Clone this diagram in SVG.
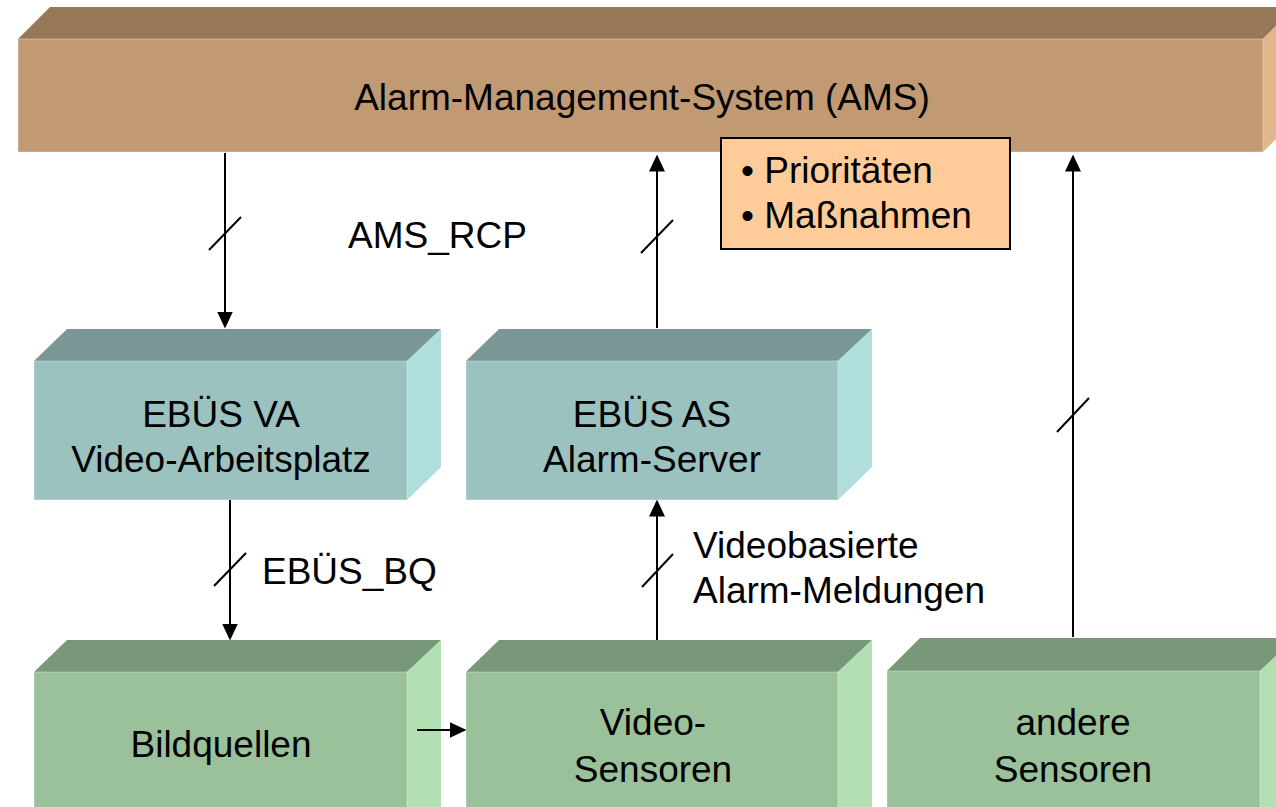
<svg xmlns="http://www.w3.org/2000/svg" width="1276" height="807" viewBox="0 0 1276 807">
<defs>
<style>
text{font-family:"Liberation Sans",Arial,sans-serif;font-size:37px;fill:#000}
.c{text-anchor:middle}
.ln{stroke:#000;stroke-width:2;fill:none}
.arr{stroke:#000;stroke-width:2;fill:none;marker-end:url(#ah)}
.bf{fill:#C19A73}.bt{fill:#967858}.br{fill:#E0B68A}
.tf{fill:#9BC2BF}.tt{fill:#799795}.tr{fill:#B0DEDC}
.gf{fill:#9AC19A}.gt{fill:#799779}.gr{fill:#B3E0B3}
.edge{stroke:#ffffff;stroke-opacity:0.35;stroke-width:1}
</style>
<marker id="ah" viewBox="0 0 16 16" markerWidth="17" markerHeight="17" refX="8" refY="8" orient="auto" markerUnits="userSpaceOnUse">
<path d="M0,0.5 L16,8 L0,15.5 z" fill="#000"/>
</marker>
</defs>
<rect width="1276" height="807" fill="#fff"/>

<g id="ams">
<polygon class="bt" points="18,39 50,7 1295,7 1263,39"/>
<polygon class="br" points="1263,39 1295,7 1295,120 1263,152"/>
<rect class="bf edge" x="18" y="39" width="1245" height="113"/>
<text class="c" x="642" y="110">Alarm-Management-System (AMS)</text>
</g>

<g id="prio">
<rect x="721" y="138" width="289" height="111" fill="#FFCC99" stroke="#000" stroke-width="2"/>
<text x="741" y="183">• Prioritäten</text>
<text x="741" y="228">• Maßnahmen</text>
</g>

<g id="ebues-va">
<polygon class="tt" points="34,361 67,329 441,329 407,361"/>
<polygon class="tr" points="407,361 441,329 441,467 407,500"/>
<rect class="tf edge" x="34" y="361" width="373" height="139"/>
<text class="c" x="221" y="427">EBÜS VA</text>
<text class="c" x="221" y="472">Video-Arbeitsplatz</text>
</g>

<g id="ebues-as">
<polygon class="tt" points="466,361 499,329 872,329 838,361"/>
<polygon class="tr" points="838,361 872,329 872,467 838,500"/>
<rect class="tf edge" x="466" y="361" width="372" height="139"/>
<text class="c" x="652" y="427">EBÜS AS</text>
<text class="c" x="652" y="472">Alarm-Server</text>
</g>

<g id="bildquellen">
<polygon class="gt" points="34,672 67,640 441,640 407,672"/>
<polygon class="gr" points="407,672 441,640 441,820 407,840"/>
<rect class="gf edge" x="34" y="672" width="373" height="160"/>
<text class="c" x="221" y="757">Bildquellen</text>
</g>

<g id="video-sensoren">
<polygon class="gt" points="466,672 499,640 872,640 838,672"/>
<polygon class="gr" points="838,672 872,640 872,820 838,840"/>
<rect class="gf edge" x="466" y="672" width="372" height="160"/>
<text class="c" x="653" y="735">Video-</text>
<text class="c" x="653" y="782">Sensoren</text>
</g>

<g id="andere-sensoren">
<polygon class="gt" points="887,671 920,638 1295,638 1260,671"/>
<polygon class="gr" points="1260,671 1295,638 1295,820 1260,840"/>
<rect class="gf edge" x="887" y="671" width="373" height="160"/>
<text class="c" x="1073" y="735">andere</text>
<text class="c" x="1073" y="782">Sensoren</text>
</g>

<g id="connectors">
<line class="arr" x1="225" y1="153" x2="225" y2="320"/>
<line class="ln" x1="209" y1="250" x2="241" y2="217"/>
<line class="arr" x1="230" y1="500" x2="230" y2="632"/>
<line class="ln" x1="214" y1="586" x2="246" y2="553"/>
<line class="arr" x1="657" y1="328" x2="657" y2="163"/>
<line class="ln" x1="641" y1="253" x2="673" y2="220"/>
<line class="arr" x1="657" y1="640" x2="657" y2="508"/>
<line class="ln" x1="642" y1="587" x2="673" y2="554"/>
<line class="arr" x1="1073" y1="637" x2="1073" y2="163"/>
<line class="ln" x1="1057" y1="432" x2="1089" y2="398"/>
<line class="arr" x1="417" y1="730" x2="458" y2="730"/>
</g>

<g id="labels">
<text x="348" y="248">AMS_RCP</text>
<text x="262" y="584">EBÜS_BQ</text>
<text x="693" y="558">Videobasierte</text>
<text x="693" y="603">Alarm-Meldungen</text>
</g>
</svg>
